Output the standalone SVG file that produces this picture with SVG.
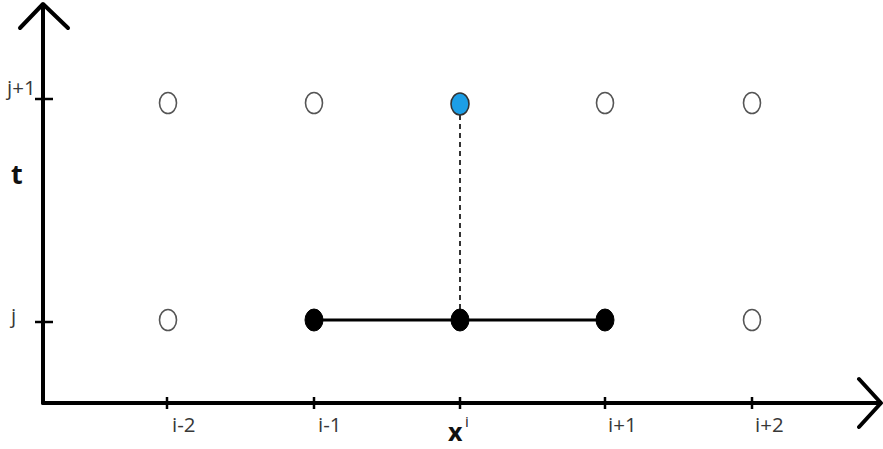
<svg xmlns="http://www.w3.org/2000/svg" width="883" height="449" viewBox="0 0 883 449">
  <style>
    .axis { stroke: #000; stroke-width: 4; fill: none; stroke-linecap: round; stroke-linejoin: round; }
    .tick { stroke: #000; stroke-width: 2.5; }
    .lbl { font-family: "Open Sans", "Liberation Sans", sans-serif; font-size: 20.5px; fill: #383838; }
    .sup { font-family: "Open Sans", "Liberation Sans", sans-serif; font-size: 15px; fill: #222; }
    .big { font-family: "Open Sans", "Liberation Sans", sans-serif; font-size: 27px; font-weight: bold; fill: #111; }
    .open { fill: #fff; stroke: #555; stroke-width: 1.6; }
    .solid { fill: #000; stroke: #000; stroke-width: 1; }
    .hot { fill: #1c9ee6; stroke: #333; stroke-width: 1.6; }
  </style>
  <rect width="883" height="449" fill="#fff"/>

  <g id="axes">
    <line class="axis" x1="43" y1="5" x2="43" y2="403"/>
    <line class="axis" x1="43" y1="403" x2="880" y2="403"/>
    <polyline class="axis" points="20,28 43,4 68,28"/>
    <polyline class="axis" points="859,379 881,403 859,427"/>
    <line class="tick" x1="35" y1="99" x2="53" y2="99"/>
    <line class="tick" x1="35" y1="322" x2="53" y2="322"/>
    <line class="tick" x1="167" y1="397" x2="167" y2="409"/>
    <line class="tick" x1="314" y1="397" x2="314" y2="409"/>
    <line class="tick" x1="460" y1="397" x2="460" y2="409"/>
    <line class="tick" x1="605" y1="397" x2="605" y2="409"/>
    <line class="tick" x1="752" y1="397" x2="752" y2="409"/>
  </g>

  <g id="labels">
    <text class="lbl" x="7" y="95">j+1</text>
    <text class="lbl" x="11" y="323">j</text>
    <text class="big" x="11" y="184">t</text>
    <text class="lbl" x="172" y="432">i-2</text>
    <text class="lbl" x="318" y="432">i-1</text>
    <text class="big" x="448" y="441" font-size="25" style="font-size:25px">x</text>
    <text class="sup" x="465" y="427">i</text>
    <text class="lbl" x="608" y="432">i+1</text>
    <text class="lbl" x="755" y="432">i+2</text>
  </g>

  <g id="connectors">
    <line x1="460" y1="106" x2="460" y2="318" stroke="#000" stroke-width="1.6" stroke-dasharray="5,4"/>
    <line x1="314" y1="320" x2="605" y2="320" stroke="#000" stroke-width="3"/>
  </g>

  <g id="node-im2-jp1"><ellipse class="open" cx="168" cy="103" rx="8.5" ry="10.5"/></g>
  <g id="node-im1-jp1"><ellipse class="open" cx="314" cy="103" rx="8.5" ry="10.5"/></g>
  <g id="node-i-jp1"><ellipse class="hot" cx="460" cy="104" rx="9" ry="11"/></g>
  <g id="node-ip1-jp1"><ellipse class="open" cx="605" cy="103" rx="8.5" ry="10.5"/></g>
  <g id="node-ip2-jp1"><ellipse class="open" cx="752" cy="103" rx="8.5" ry="10.5"/></g>

  <g id="node-im2-j"><ellipse class="open" cx="168" cy="320" rx="8.5" ry="10.5"/></g>
  <g id="node-im1-j"><ellipse class="solid" cx="314" cy="320" rx="9" ry="11"/></g>
  <g id="node-i-j"><ellipse class="solid" cx="460" cy="320" rx="9" ry="11"/></g>
  <g id="node-ip1-j"><ellipse class="solid" cx="605" cy="320" rx="9" ry="11"/></g>
  <g id="node-ip2-j"><ellipse class="open" cx="752" cy="320" rx="8.5" ry="10.5"/></g>
</svg>
